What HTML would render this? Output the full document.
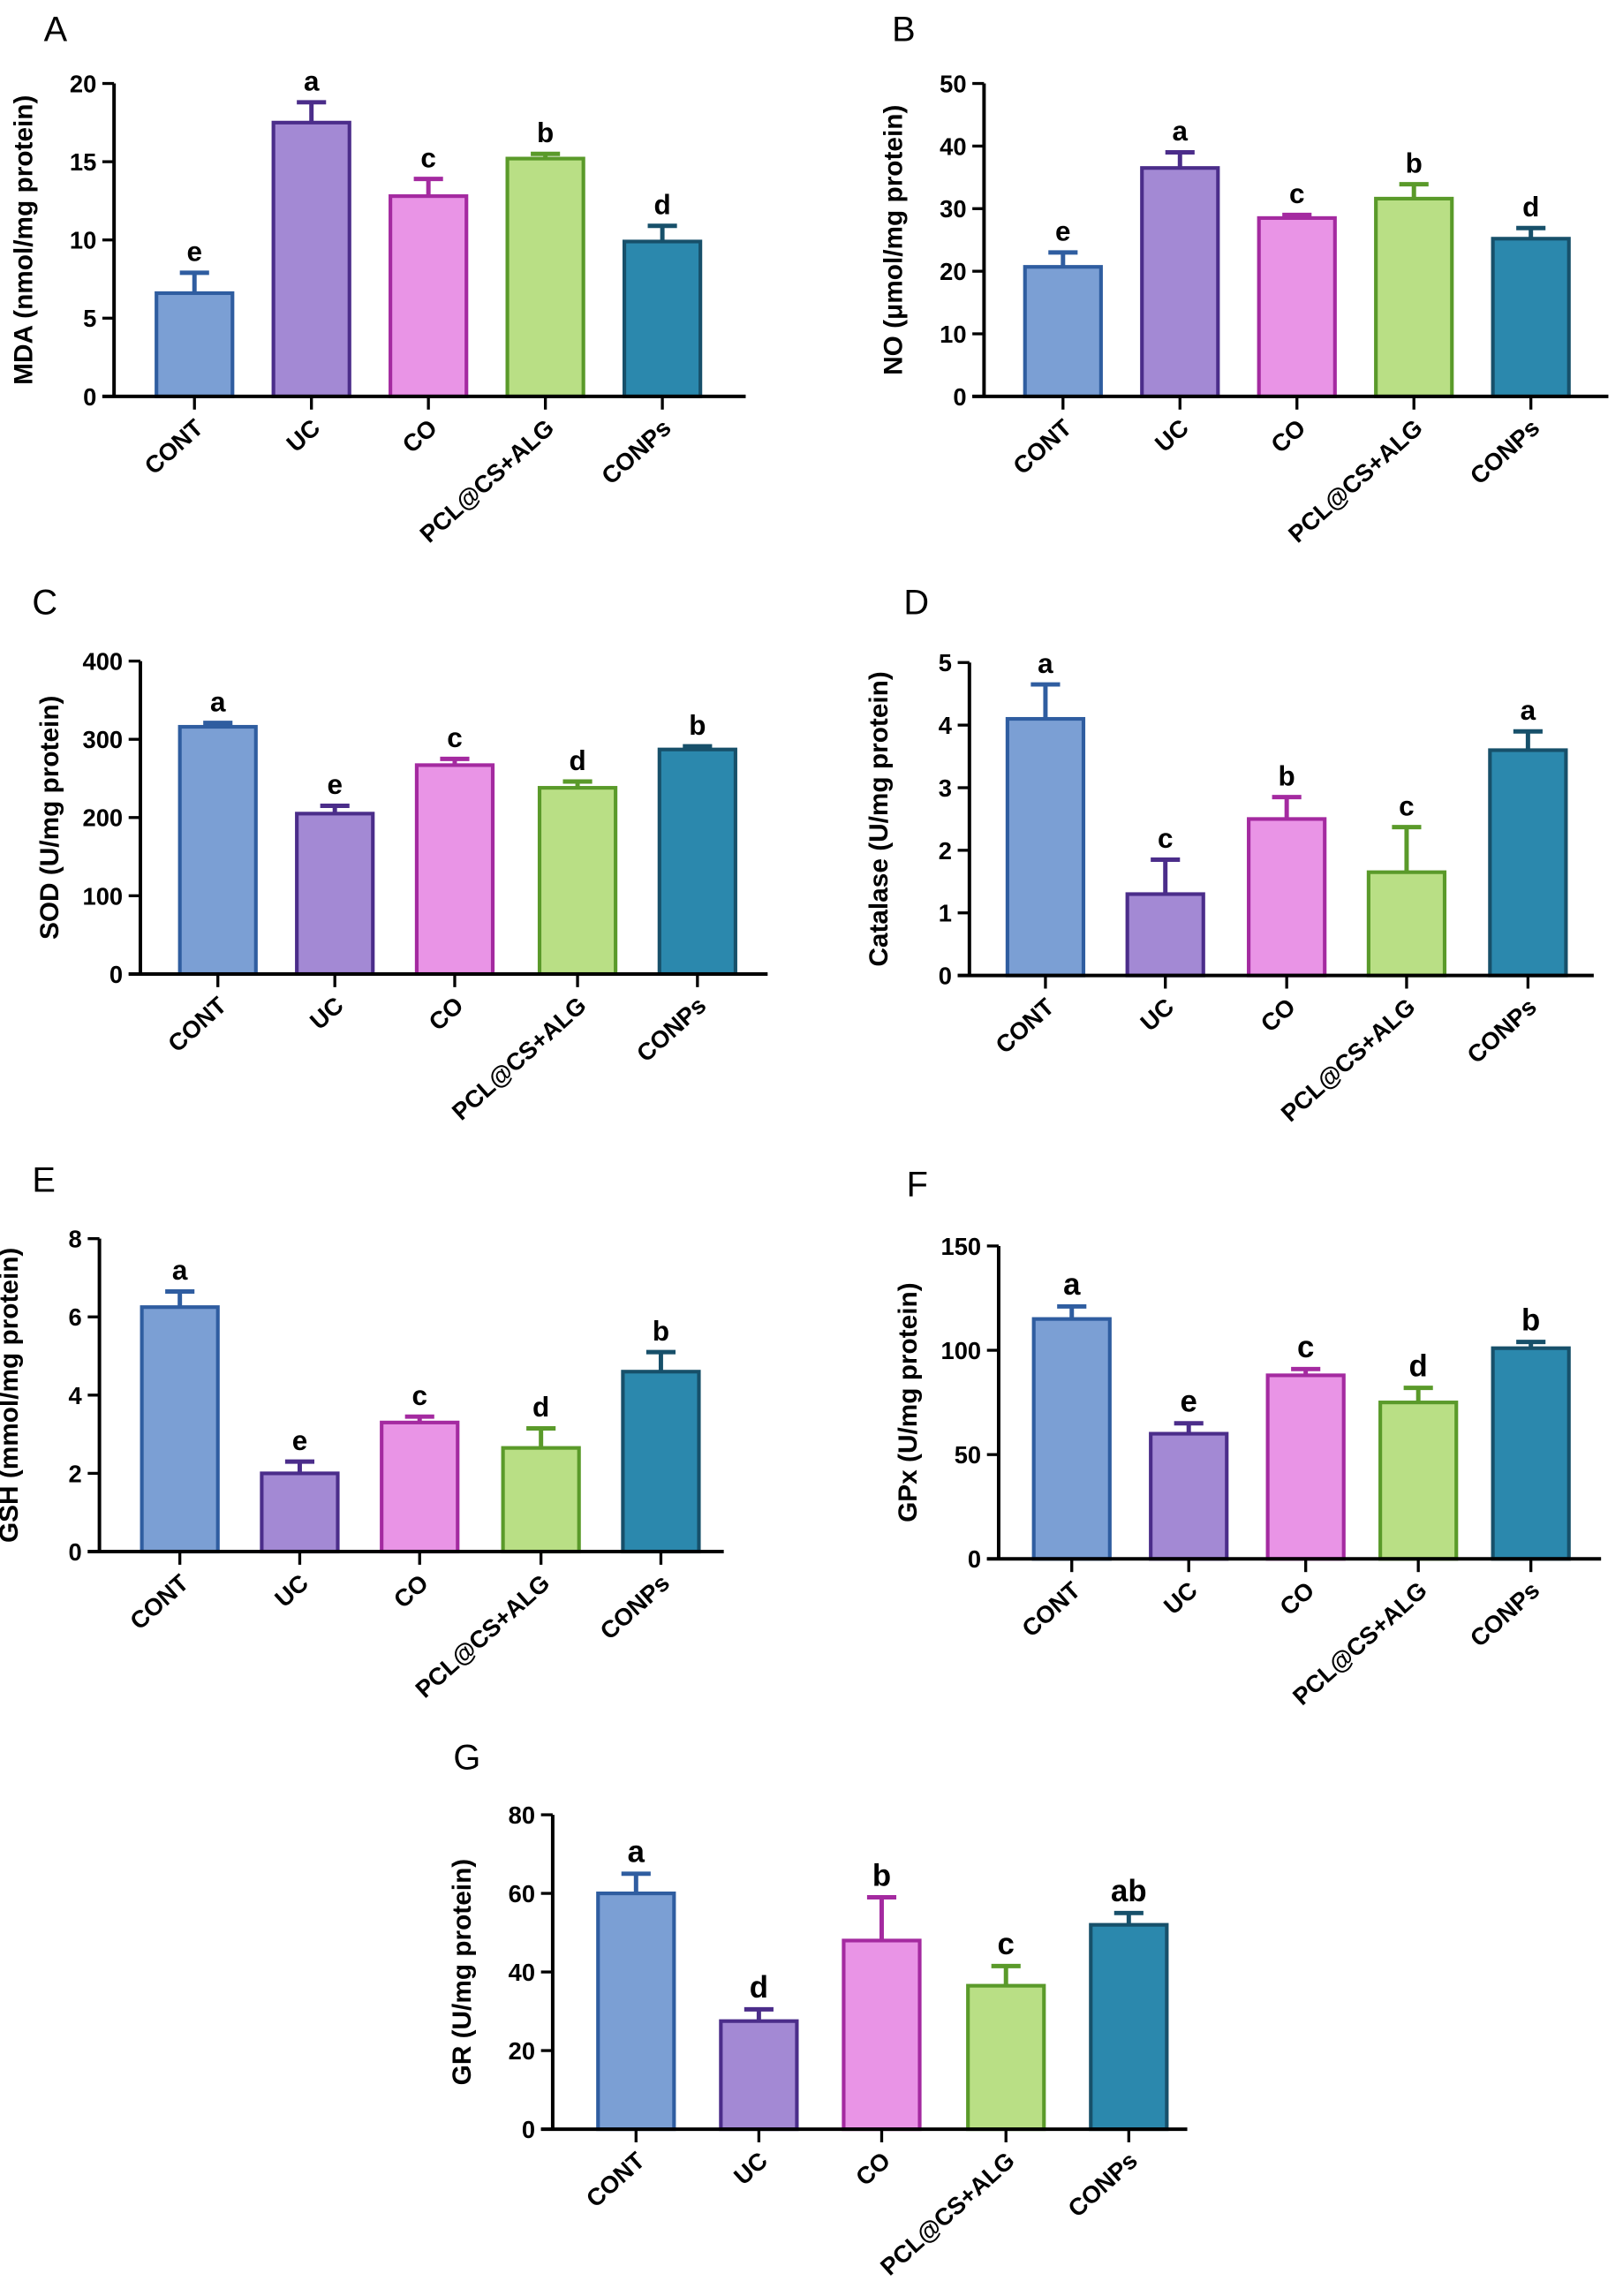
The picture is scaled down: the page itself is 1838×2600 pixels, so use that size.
<!DOCTYPE html>
<html><head><meta charset="utf-8"><style>
html,body{margin:0;padding:0;background:#fff}
svg{display:block}
text{font-family:"Liberation Sans",Arial,sans-serif}
</style></head><body>
<svg id="fig" width="1838" height="2600" viewBox="0 0 1110 1570" xmlns="http://www.w3.org/2000/svg"></svg>
<script>
const categories = ["CONT","UC","CO","PCL@CS+ALG","CONPs"];
const mdaValues = [6.6,17.5,12.8,15.2,9.9];
const mdaErrors = [1.3,1.3,1.1,0.3,1.0];
const mdaLetters = ["e","a","c","b","d"];
const noValues = [20.7,36.5,28.5,31.6,25.2];
const noErrors = [2.3,2.5,0.5,2.3,1.7];
const noLetters = ["e","a","c","b","d"];
const sodValues = [316,205,267,238,287];
const sodErrors = [5,10,8,8,4];
const sodLetters = ["a","e","c","d","b"];
const catValues = [4.1,1.3,2.5,1.65,3.6];
const catErrors = [0.55,0.55,0.35,0.72,0.3];
const catLetters = ["a","c","b","c","a"];
const gshValues = [6.25,2.0,3.3,2.65,4.6];
const gshErrors = [0.4,0.3,0.15,0.5,0.5];
const gshLetters = ["a","e","c","d","b"];
const gpxValues = [115,60,88,75,101];
const gpxErrors = [6,5,3,7,3];
const gpxLetters = ["a","e","c","d","b"];
const grValues = [60,27.5,48,36.5,52];
const grErrors = [5,3,11,5,3];
const grLetters = ["a","d","b","c","ab"];
const mdaTicks=[0,5,10,15,20], noTicks=[0,10,20,30,40,50], sodTicks=[0,100,200,300,400],
      catTicks=[0,1,2,3,4,5], gshTicks=[0,2,4,6,8], gpxTicks=[0,50,100,150], grTicks=[0,20,40,60,80];

const fills=["#7b9fd4","#a389d4","#e994e6","#b9df85","#2b88ad"];
const strokes=["#2f5da0","#4b2d8a","#a42aa0","#5a9a2a","#17506a"];
const NS="http://www.w3.org/2000/svg";
const svg=document.getElementById("fig");
function mk(tag,attrs,parent,txt){const e=document.createElementNS(NS,tag);for(const k in attrs)e.setAttribute(k,attrs[k]);if(txt!==undefined)e.textContent=txt;parent.appendChild(e);return e;}

const panels=[
 {id:"a",letter:"A",lx:30,ly:28,ax:78,top:57,zero:271,end:510,centers:[133,213,293,373,453],vals:mdaValues,errs:mdaErrors,lets:mdaLetters,ticks:mdaTicks,yl:"MDA (nmol/mg protein)",serif:false},
 {id:"b",letter:"B",lx:610,ly:28,ax:673,top:57,zero:271,end:1100,centers:[727,807,887,967,1047],vals:noValues,errs:noErrors,lets:noLetters,ticks:noTicks,yl:"NO (μmol/mg protein)",serif:false},
 {id:"c",letter:"C",lx:22,ly:420,ax:96,top:452,zero:666,end:525,centers:[149,229,311,395,477],vals:sodValues,errs:sodErrors,lets:sodLetters,ticks:sodTicks,yl:"SOD (U/mg protein)",serif:false},
 {id:"d",letter:"D",lx:618,ly:420,ax:663,top:453,zero:667,end:1090,centers:[715,797,880,962,1045],vals:catValues,errs:catErrors,lets:catLetters,ticks:catTicks,yl:"Catalase (U/mg protein)",serif:false},
 {id:"e",letter:"E",lx:22,ly:815,ax:68,top:847,zero:1061,end:495,centers:[123,205,287,370,452],vals:gshValues,errs:gshErrors,lets:gshLetters,ticks:gshTicks,yl:"GSH (mmol/mg protein)",serif:false},
 {id:"f",letter:"F",lx:620,ly:818,ax:683,top:852,zero:1066,end:1095,centers:[733,813,893,970,1047],vals:gpxValues,errs:gpxErrors,lets:gpxLetters,ticks:gpxTicks,yl:"GPx (U/mg protein)",serif:true},
 {id:"g",letter:"G",lx:310,ly:1210,ax:378,top:1241,zero:1456,end:812,centers:[435,519,603,688,772],vals:grValues,errs:grErrors,lets:grLetters,ticks:grTicks,yl:"GR (U/mg protein)",serif:true}
];

panels.forEach(p=>{
 const g=mk("g",{},svg);
 
 
 const max=p.ticks[p.ticks.length-1];
 const y=v=>p.zero-(v/max)*(p.zero-p.top);
 const bw=52;
 const pl=mk("text",{x:p.lx,y:p.ly,"font-size":24},g,p.letter);
 
 
 p.vals.forEach((v,i)=>{
  const c=p.centers[i], e=p.errs[i];
  const eb=mk("path",{d:`M${c},${y(v)} V${y(v+e)} M${c-10},${y(v+e)} H${c+10}`,stroke:strokes[i],"stroke-width":3,fill:"none"},g);
  
  
  const r=mk("rect",{x:c-bw/2,y:y(v),width:bw,height:p.zero-y(v),fill:fills[i],stroke:strokes[i],"stroke-width":2.5},g);
  
  
  const lt=mk("text",{x:c,y:y(v+e)-8,"text-anchor":"middle","font-size":p.serif?21:19,"font-weight":"bold","font-family":p.serif?"Liberation Serif, serif":"Liberation Sans, sans-serif"},g,p.lets[i]);
  
  
  mk("line",{x1:c,x2:c,y1:p.zero,y2:p.zero+9,stroke:"#000","stroke-width":2},g);
  const xl=mk("text",{x:0,y:0,"text-anchor":"end","font-size":16.5,"font-weight":"bold",transform:`translate(${c+7},${p.zero+23}) rotate(-42)`},g,categories[i]);
  
  
 });
 const ya=mk("line",{x1:p.ax,x2:p.ax,y1:p.top,y2:p.zero,stroke:"#000","stroke-width":2.4},g);
 
 
 const xa=mk("line",{x1:p.ax-8,x2:p.end,y1:p.zero,y2:p.zero,stroke:"#000","stroke-width":2.4},g);
 
 
 p.ticks.forEach(t=>{
  mk("line",{x1:p.ax-8,x2:p.ax,y1:y(t),y2:y(t),stroke:"#000","stroke-width":2},g);
  const tl=mk("text",{x:p.ax-12,y:y(t)+6,"text-anchor":"end","font-size":16.5,"font-weight":"bold"},g,t);
  
  
 });
 const mid=(p.top+p.zero)/2;
 const yt=mk("text",{x:0,y:0,"text-anchor":"middle","font-size":18,"font-weight":"bold",transform:`translate(${p.ax-56},${mid}) rotate(-90)`},g,p.yl);
 
 
});
</script>
</body></html>
